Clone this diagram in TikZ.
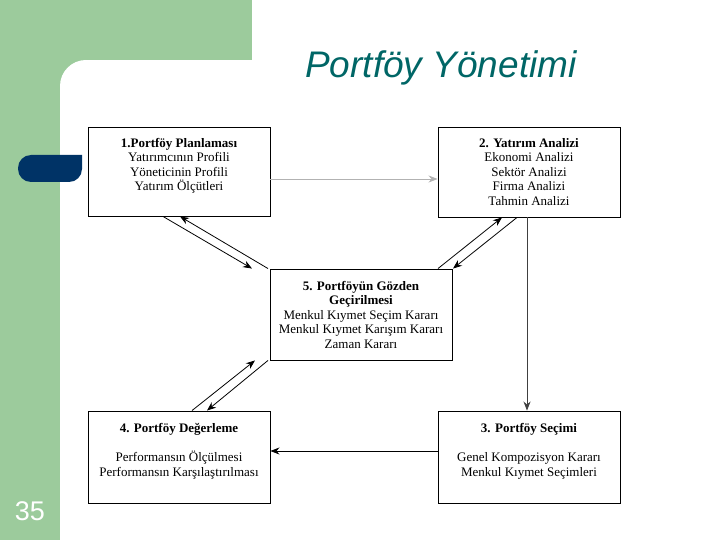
\documentclass[tikz,border=0pt]{standalone}
\usepackage{fontspec}
\setmainfont{Liberation Serif}
\newfontfamily\titlefont{Liberation Sans}
\usepackage{xcolor}
\usepackage{tikz}
\usetikzlibrary{positioning, arrows.meta}
\definecolor{slidegreen}{RGB}{156,203,156}
\definecolor{tabblue}{RGB}{0,51,102}
\definecolor{titleteal}{RGB}{0,102,102}
\tikzstyle{stage} = [rectangle, minimum width=182pt, minimum height=90pt, align=center, draw=black, line width=0.9pt, fill=white, font=\fontsize{13}{14.5}\selectfont]
\tikzstyle{flow} = [line width=0.8pt, -{Stealth[length=9pt, width=7pt]}]

\begin{document}
\begin{tikzpicture}[x=1pt, y=-1pt]
		\useasboundingbox (0,0) rectangle (720,540);
		% slide background
		\fill [slidegreen] (0,0) rectangle (720,540);
		\fill [white] (86,60) rectangle (720,540);
		\fill [white] (60,86) rectangle (720,540);
		\fill [white] (86,86) circle (26pt);
		\fill [white] (252,0) rectangle (720,70);
		\fill [tabblue, rounded corners=13pt] (82,155) -- (18,155) -- (18,182) -- (82,182) [sharp corners] -- cycle;
		\node (Title)[anchor=base, text=titleteal, font=\titlefont\itshape\fontsize{37}{40}\selectfont] at (441,78) {Portföy Yönetimi};
		\node (Page)[anchor=base, text=white, font=\titlefont\fontsize{27}{30}\selectfont] at (30,520) {35};
		% stages
		\node (Planlama)[stage, minimum height=89pt] at (179,171.5) {\textbf{1.Portföy Planlaması}\\Yatırımcının Profili\\Yöneticinin Profili\\Yatırım Ölçütleri\\~};
		\node (Analiz)[stage] at (529,172) {\textbf{2. Yatırım Analizi}\\Ekonomi Analizi\\Sektör Analizi\\Firma Analizi\\Tahmin Analizi};
		\node (Gozden)[stage, minimum height=91pt] at (361,314.5) {\textbf{5. Portföyün Gözden}\\\textbf{Geçirilmesi}\\Menkul Kıymet Seçim Kararı\\Menkul Kıymet Karışım Kararı\\Zaman Kararı};
		\node (Degerleme)[stage, minimum height=92pt] at (179,457) {\textbf{4. Portföy Değerleme}\\[14.5pt]Performansın Ölçülmesi\\Performansın Karşılaştırılması\\~};
		\node (Secim)[stage, minimum height=92pt] at (529,457) {\textbf{3. Portföy Seçimi}\\[14.5pt]Genel Kompozisyon Kararı\\Menkul Kıymet Seçimleri\\~};
		% connectors
		\draw [flow, gray!60] ([yshift=-7.5pt]Planlama.east) -- ([yshift=-7pt]Analiz.west);
		\draw [flow, black!75] ([xshift=-2pt]Analiz.south) -- ([xshift=-2pt]Secim.north);
		\draw [flow] ([yshift=6pt]Secim.west) -- ([yshift=6pt]Degerleme.east);
		\draw [flow] ([xshift=-16pt]Planlama.south) -- ([xshift=-109pt]Gozden.north);
		\draw [flow] ([xshift=-93pt]Gozden.north) -- ([xshift=1pt]Planlama.south);
		\draw [flow] ([xshift=77pt]Gozden.north) -- ([xshift=-27pt]Analiz.south);
		\draw [flow] ([xshift=-12pt]Analiz.south) -- ([xshift=92pt]Gozden.north);
		\draw [flow] ([xshift=13pt]Degerleme.north) -- ([xshift=-106pt]Gozden.south);
		\draw [flow] ([xshift=-93pt]Gozden.south) -- ([xshift=28pt]Degerleme.north);
	\end{tikzpicture}
\end{document}
